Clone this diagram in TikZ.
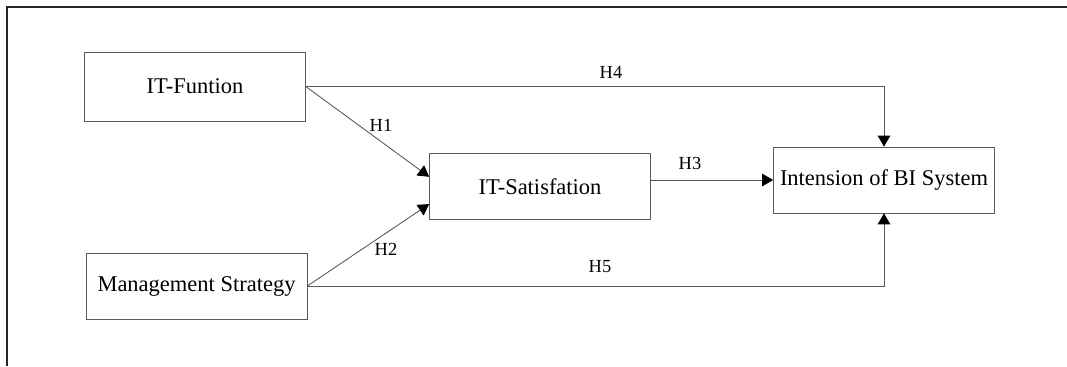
\documentclass[tikz,border=0pt]{standalone}
\usepackage{fontspec}
\setmainfont{Liberation Serif}
\usepackage{tikz}
\usetikzlibrary{positioning,arrows.meta}

\begin{document}
\begin{tikzpicture}[x=0.02cm, y=-0.02cm,
  factor/.style={draw=black!65, minimum width=4.42cm, minimum height=1.32cm,
                 inner sep=0pt, font=\fontsize{12.8}{15}\selectfont},
  link/.style={draw=black!65, line width=0.5pt,
               -{Triangle[length=0.22cm, width=0.25cm, color=black]}},
  hyp/.style={inner sep=0pt, font=\fontsize{10.5}{12}\selectfont},
  ]
  \useasboundingbox (0,0) rectangle (1067,366);
  \draw[line width=1.1pt, black!85] (7,366) -- (7,7) -- (1067,7);

  \node[factor, minimum height=1.38cm] (func) at (195,86.5) {IT-Funtion};
  \node[factor] (mgmt) at (196.5,286) {Management Strategy};
  \node[factor] (sat) at (540,186.5) {IT-Satisfation};
  \node[factor] (intent) at (884,180) {Intension of BI System};

  \draw[link] (func.east) -- (sat.175);
  \draw[link] (mgmt.east) -- (sat.189.5);
  \draw[link] (sat.east |- intent.west) -- (intent.west);
  \draw[link] (func.east) -| (intent.north);
  \draw[link] (mgmt.east) -| (intent.south);

  \node[hyp] (h1) at (381,125) {H1};
  \node[hyp] (h2) at (386,249) {H2};
  \node[hyp] (h3) at (690,163) {H3};
  \node[hyp] (h4) at (611,72) {H4};
  \node[hyp] (h5) at (600,267) {H5};
\end{tikzpicture}
\end{document}
